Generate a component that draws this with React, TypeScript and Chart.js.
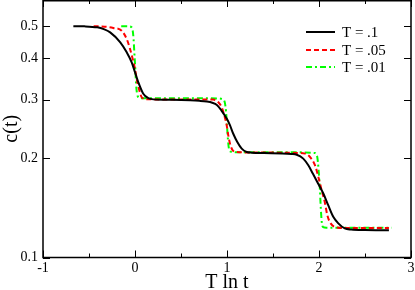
import React, { useEffect, useRef } from "react";
import { Chart, registerables } from "chart.js";

Chart.register(...registerables);

const seriesNames = ["T = .1", "T = .05", "T = .01"];
const seriesColors = ["#000000", "#ff0000", "#00ff00"];
const seriesDashes: number[][] = [[], [5, 3], [6, 3, 2, 3]];

const xTickValues = [-1, 0, 1, 2, 3];
const xTickLabels = ["-1", "0", "1", "2", "3"];
const xMinorTicks = [-0.5, 0.5, 1.5, 2.5];
const yTickValues = [0.1, 0.2, 0.3, 0.4, 0.5];
const yTickLabels = ["0.1", "0.2", "0.3", "0.4", "0.5"];

const blackX = [-0.67, -0.55, -0.41, -0.34, -0.27, -0.16, -0.09, -0.036, 0, 0.036, 0.09, 0.145, 0.2, 0.4, 0.6, 0.7, 0.78, 0.84, 0.89, 0.94, 1.0, 1.033, 1.068, 1.112, 1.16, 1.214, 1.27, 1.4, 1.6, 1.7, 1.758, 1.829, 1.884, 1.933, 1.99, 2.047, 2.1, 2.155, 2.21, 2.28, 2.35, 2.5, 2.76];
const blackY = [0.5, 0.4995, 0.496, 0.49, 0.479, 0.447, 0.417, 0.389, 0.363, 0.3385, 0.3124, 0.303, 0.3005, 0.2995, 0.2985, 0.2975, 0.296, 0.2935, 0.289, 0.278, 0.262, 0.2506, 0.2366, 0.2233, 0.2133, 0.2083, 0.2074, 0.2068, 0.2063, 0.2055, 0.2045, 0.199, 0.1899, 0.1793, 0.1673, 0.1561, 0.1439, 0.1327, 0.1268, 0.1224, 0.1215, 0.121, 0.1208];

const redX = [-0.45, -0.33, -0.236, -0.145, -0.09, -0.054, -0.025, 0, 0.018, 0.043, 0.073, 0.12, 0.2, 0.5, 0.75, 0.85, 0.906, 0.942, 0.971, 0.997, 1.014, 1.033, 1.062, 1.105, 1.2, 1.5, 1.75, 1.848, 1.902, 1.957, 1.993, 2.029, 2.066, 2.09, 2.127, 2.192, 2.3, 2.5, 2.76];
const redY = [0.5, 0.4985, 0.494, 0.4845, 0.4574, 0.4268, 0.3981, 0.3715, 0.3466, 0.3233, 0.305, 0.301, 0.3005, 0.3005, 0.3003, 0.3, 0.2946, 0.2846, 0.2687, 0.2506, 0.2339, 0.2208, 0.2108, 0.2083, 0.2078, 0.2075, 0.207, 0.206, 0.2012, 0.1899, 0.1751, 0.1597, 0.1456, 0.1343, 0.1268, 0.1233, 0.1227, 0.1227, 0.1227];

const greenX = [-0.15, -0.07, -0.04, -0.025, -0.015, -0.008, 0, 0.008, 0.015, 0.03, 0.06, 0.3, 0.6, 0.9, 0.95, 0.975, 0.99, 1.0, 1.01, 1.02, 1.04, 1.08, 1.4, 1.7, 1.95, 1.98, 1.995, 2.01, 2.02, 2.03, 2.045, 2.08, 2.4, 2.79];
const greenY = [0.5, 0.4995, 0.497, 0.485, 0.455, 0.42, 0.385, 0.35, 0.325, 0.307, 0.303, 0.303, 0.303, 0.3025, 0.301, 0.295, 0.275, 0.25, 0.228, 0.214, 0.209, 0.208, 0.208, 0.208, 0.207, 0.202, 0.185, 0.16, 0.14, 0.128, 0.1235, 0.123, 0.123, 0.123];

const seriesX = [blackX, redX, greenX];
const seriesY = [blackY, redY, greenY];

const FONT = "'Liberation Serif', 'Times New Roman', serif";

const framePlugin = {
  id: "frame",
  afterDraw(chart: any) {
    const { ctx, chartArea } = chart;
    const xs = chart.scales.x;
    const ys = chart.scales.y;
    const { left, right, top, bottom } = chartArea;
    ctx.save();
    ctx.strokeStyle = "#000";
    ctx.lineWidth = 1.5;
    ctx.strokeRect(left, top + 0.75, right - left, bottom - top - 0.75);
    ctx.lineWidth = 1;
    ctx.beginPath();
    const major = 7;
    const minor = 4;
    xTickValues.forEach((v) => {
      const px = Math.round(xs.getPixelForValue(v)) + 0.5;
      ctx.moveTo(px, bottom);
      ctx.lineTo(px, bottom - major);
      ctx.moveTo(px, top);
      ctx.lineTo(px, top + major);
    });
    xMinorTicks.forEach((v) => {
      const px = Math.round(xs.getPixelForValue(v)) + 0.5;
      ctx.moveTo(px, bottom);
      ctx.lineTo(px, bottom - minor);
      ctx.moveTo(px, top);
      ctx.lineTo(px, top + minor);
    });
    yTickValues.forEach((v) => {
      const py = Math.round(ys.getPixelForValue(v)) + 0.5;
      ctx.moveTo(left, py);
      ctx.lineTo(left + major, py);
      ctx.moveTo(right, py);
      ctx.lineTo(right - major, py);
    });
    ctx.stroke();
    ctx.restore();
  },
};

const legendPlugin = {
  id: "customLegend",
  afterDraw(chart: any) {
    const { ctx } = chart;
    const rows = [32, 50, 67];
    ctx.save();
    ctx.font = `15px ${FONT}`;
    ctx.textBaseline = "middle";
    ctx.textAlign = "left";
    seriesNames.forEach((name, i) => {
      ctx.strokeStyle = seriesColors[i];
      ctx.lineWidth = 2;
      ctx.setLineDash(seriesDashes[i]);
      ctx.beginPath();
      ctx.moveTo(306, rows[i]);
      ctx.lineTo(335, rows[i]);
      ctx.stroke();
      ctx.setLineDash([]);
      ctx.fillStyle = "#000";
      ctx.fillText(name, 342, rows[i] + 1);
    });
    ctx.restore();
  },
};

export default function App() {
  const ref = useRef<HTMLCanvasElement | null>(null);
  useEffect(() => {
    document.body.style.margin = "0";
    const canvas = ref.current;
    if (!canvas) return;
    const datasets = seriesNames.map((name, i) => ({
      label: name,
      data: seriesX[i].map((x, j) => ({ x, y: seriesY[i][j] })),
      borderColor: seriesColors[i],
      backgroundColor: seriesColors[i],
      borderDash: seriesDashes[i],
      borderWidth: 2,
      pointRadius: 0,
      fill: false,
      cubicInterpolationMode: "monotone" as const,
    }));
    const chart = new Chart(canvas, {
      type: "line",
      data: { datasets },
      options: {
        responsive: false,
        animation: false,
        layout: { padding: { top: 0, right: 4, bottom: 0, left: 0 } },
        plugins: { legend: { display: false }, tooltip: { enabled: false } },
        scales: {
          x: {
            type: "linear",
            min: -1,
            max: 3,
            afterBuildTicks: (scale: any) => {
              scale.ticks = xTickValues.map((v) => ({ value: v }));
            },
            afterFit: (scale: any) => {
              scale.height = 32.5;
              scale.paddingLeft = 0;
              scale.paddingRight = 0;
            },
            ticks: {
              color: "#000",
              padding: 2,
              maxRotation: 0,
              font: { family: FONT, size: 14 },
              callback: (v: any) => {
                const k = xTickValues.indexOf(Number(v));
                return k >= 0 ? xTickLabels[k] : "";
              },
            },
            grid: { display: false, drawTicks: false },
            border: { display: false },
            title: {
              display: true,
              text: "T ln t",
              color: "#000",
              font: { family: FONT, size: 20 },
              padding: { top: 0, bottom: -5 },
            },
          },
          y: {
            type: "logarithmic",
            min: 0.1,
            max: 0.6,
            afterBuildTicks: (scale: any) => {
              scale.ticks = yTickValues.map((v) => ({ value: v }));
            },
            afterFit: (scale: any) => {
              scale.width = 43;
              scale.paddingTop = 0;
              scale.paddingBottom = 0;
            },
            ticks: {
              color: "#000",
              padding: 5,
              font: { family: FONT, size: 14 },
              callback: (v: any) => {
                const k = yTickValues.findIndex((t) => Math.abs(t - Number(v)) < 1e-9);
                return k >= 0 ? yTickLabels[k] : "";
              },
            },
            grid: { display: false, drawTicks: false },
            border: { display: false },
            title: {
              display: true,
              text: "c(t)",
              color: "#000",
              font: { family: FONT, size: 20 },
              padding: { top: 0, bottom: 0 },
            },
          },
        },
      },
      plugins: [framePlugin, legendPlugin],
    });
    return () => chart.destroy();
  }, []);
  return (
    <div style={{ position: "fixed", left: 0, top: 0, width: 415, height: 290, background: "#fff" }}>
      <canvas ref={ref} width={415} height={290} style={{ display: "block" }} />
    </div>
  );
}
